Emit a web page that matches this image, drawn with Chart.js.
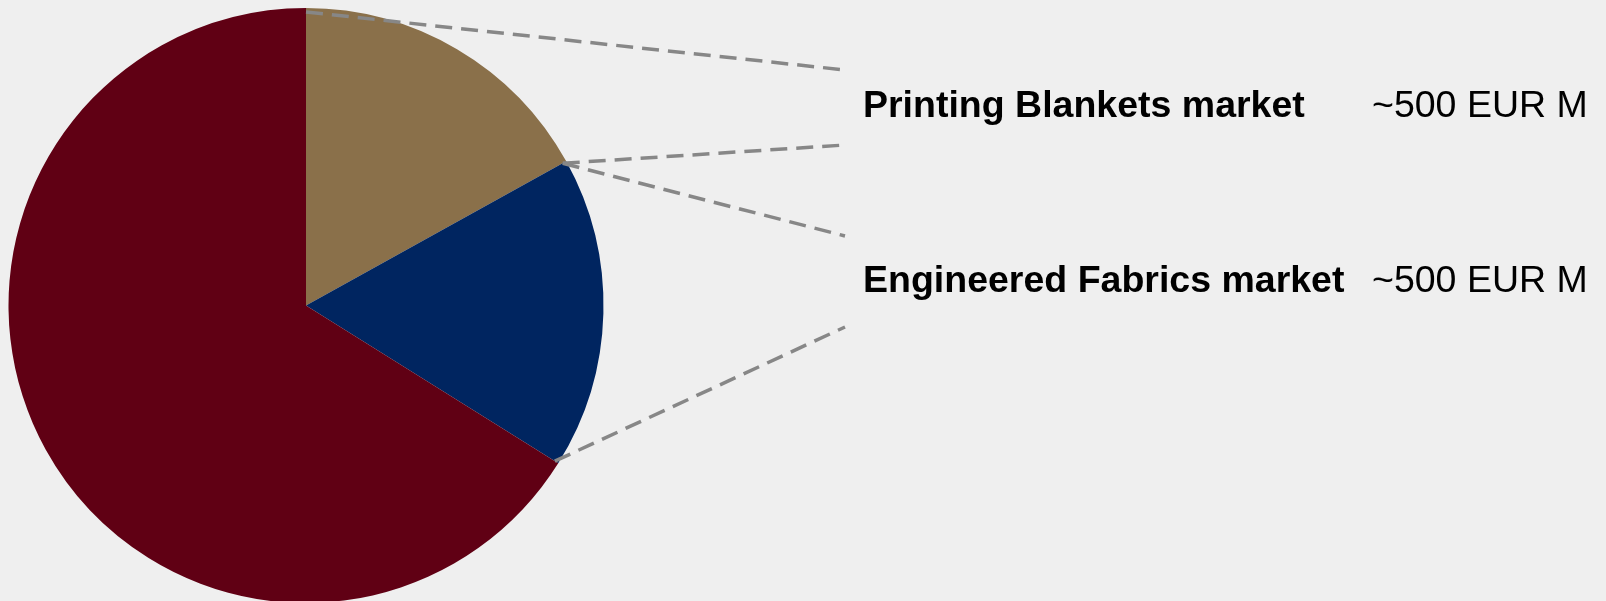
<!DOCTYPE html>
<html>
<head>
<meta charset="utf-8">
<script src="https://cdn.jsdelivr.net/npm/chart.js"></script>
<style>
  html, body { margin: 0; padding: 0; background: #efefef; overflow: hidden; }
  #pie { position: absolute; left: 0; top: 0; }
</style>
</head>
<body>
<canvas id="pie" width="1606" height="611"></canvas>
<script>
// market split (EUR M); "Other"
const categories = ['Printing Blankets market', 'Engineered Fabrics market', 'Other'];
const values = [500, 500, 1950];
const valueLabels = ['~500 EUR M', '~500 EUR M'];
const sliceColors = ['#8a704a', '#002560', '#600014'];

// dashed callout lines from slice edges to the label block
const calloutPlugin = {
  id: 'callouts',
  afterDraw: function (chart) {
    const ctx = chart.ctx;
    const arcs = chart.getDatasetMeta(0).data;
    const pt = function (arc, angle) {
      const r = arc.outerRadius - 4;
      return [arc.x + r * Math.cos(angle), arc.y + r * Math.sin(angle)];
    };
    const a = pt(arcs[0], arcs[0].startAngle);
    const b = pt(arcs[0], arcs[0].endAngle);
    const c = pt(arcs[1], arcs[1].endAngle);
    const endX = 845;
    const segs = [
      [a, 70], [b, 145], [b, 236], [c, 327]
    ];

    ctx.save();
    ctx.strokeStyle = '#878787';
    ctx.lineWidth = 3.5;
    ctx.setLineDash([17, 9]);
    segs.forEach(function (s) {
      ctx.beginPath();
      ctx.moveTo(s[0][0], s[0][1]);
      ctx.lineTo(endX, s[1]);
      ctx.stroke();
    });
    ctx.restore();

    const rows = [117, 292];
    ctx.save();
    ctx.fillStyle = '#000';
    ctx.textBaseline = 'alphabetic';
    ctx.textAlign = 'left';
    for (var i = 0; i < valueLabels.length; i++) {
      ctx.font = 'bold 37.5px "Liberation Sans", Arial, sans-serif';
      ctx.fillText(categories[i], 863, rows[i]);
      ctx.font = '37.5px "Liberation Sans", Arial, sans-serif';
      ctx.fillText(valueLabels[i], 1372, rows[i]);
    }
    ctx.restore();
  }
};

var config = {
  type: 'pie',
  data: {
    labels: categories,
    datasets: [
      {
        data: values,
        backgroundColor: sliceColors,
        borderWidth: 0,
        hoverOffset: 0,
        offset: 0
      }
    ]
  },
  options: {
    responsive: false,
    animation: false,
    layout: {
      padding: { left: 8.5, top: 8, right: 1002.5, bottom: 8 }
    },
    plugins: {
      legend: { display: false },
      tooltip: { enabled: false }
    }
  },
  plugins: [calloutPlugin]
};

new Chart(document.getElementById('pie').getContext('2d'), config);
</script>
</body>
</html>
